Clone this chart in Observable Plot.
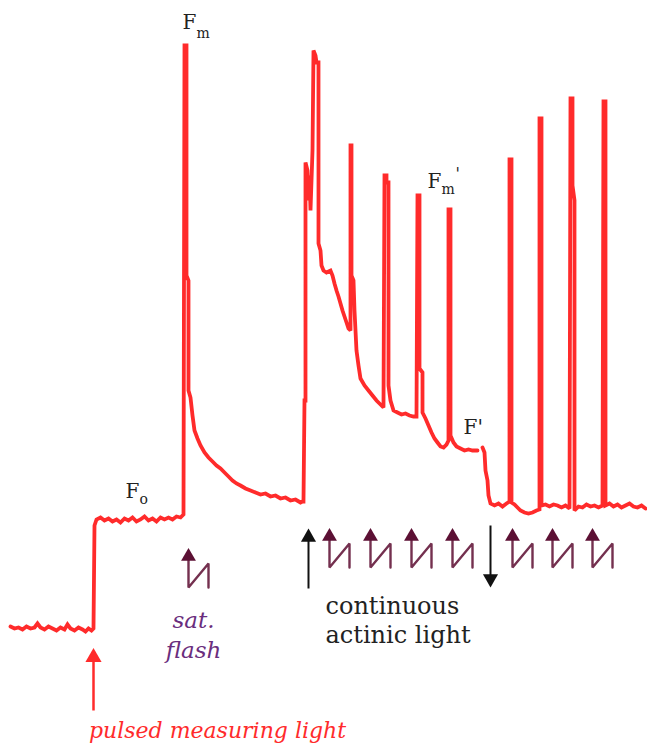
<!DOCTYPE html>
<html>
<head>
<meta charset="utf-8">
<script src="https://cdn.jsdelivr.net/npm/d3@7"></script>
<script src="https://cdn.jsdelivr.net/npm/@observablehq/plot@0.6"></script>
<style>
  html, body { margin: 0; padding: 0; background: #fff; }
  #chart svg { display: block; }
</style>
</head>
<body>
<div id="chart"></div>
<script>
// Chlorophyll fluorescence trace (arbitrary time units, arbitrary fluorescence units)
const traceTime = [
  10,14,18,22,26,30,34,37,40,44,48,52,56,60,64,67,70,74,78,82,85,88,91,93,
  94,96,100,104,108,112,116,120,124,128,132,136,140,144,148,152,156,160,164,168,172,176,180,183,
  184,186,186,188,188,
  190,192,194,197,200,204,208,212,216,220,224,228,232,236,240,245,250,255,260,265,270,275,280,285,290,295,300,302,
  303,304,305,305,307,308,309,310,311,312,313,315,316,318,318,320,321,323,326,330,332,334,336,338,340,342,344,346,348,350,
  350,351,351,353,354,356,358,360,364,368,372,376,380,383,
  384,386,386,388,388,390,393,397,401,405,409,413,416,
  417,419,419,422,422,425,428,431,434,437,440,443,446,448,
  448,450,450,453,456,460,464,468,472,477,
  479,
  482,484,485,487,488,490,
  494,498,502,506,509,
  509,511,511,514,517,520,524,528,532,536,539,
  539,541,541,545,549,553,557,561,565,569,
  570,572,572,574,574,578,582,586,590,594,598,602,
  603,605,605,609,613,617,621,625,629,633,637,641,645
];
const traceF = [
  118,116,117,115,118,116,117,121,117,115,118,116,114,117,115,120,116,114,117,115,113,116,114,116,
  219,225,227,224,226,223,225,222,226,224,227,223,225,228,224,226,223,227,225,227,225,228,227,230,
  699,699,469,464,354,
  347,329,314,306,299,292,287,283,279,276,272,268,264,261,259,256,254,252,250,251,248,249,246,247,244,245,242,243,
  243,344,344,582,574,544,569,534,564,594,694,689,682,682,501,494,479,474,472,474,469,461,454,448,441,434,428,422,416,414,
  599,599,469,464,434,394,379,366,359,354,349,344,340,337,
  569,569,562,562,359,344,334,332,330,331,329,328,328,
  549,549,376,372,332,326,319,312,306,302,298,297,300,304,
  535,535,309,302,298,296,294,295,294,294,
  NaN,
  297,292,274,264,249,241,
  239,241,238,241,243,
  585,585,242,240,237,234,232,231,232,234,235,
  626,626,239,240,238,240,239,237,239,236,
  646,646,559,544,234,238,237,240,238,239,237,239,
  643,643,239,241,238,240,237,239,241,238,237,239,236
];

// Saturating flashes (symbol positions) and light on/off arrows
const flashTime = [188, 329, 370, 411, 452, 512, 552, 592];
const flashTipF = [196, 216, 216, 216, 216, 216, 216, 216];
const arrowTime = [93, 308, 490];          // measuring light on, actinic on, actinic off
const arrowFromF = [34, 156, 219];
const arrowTipF = [96, 216, 157];

// Text labels
const letterText = ["F", "F", "F", "F'"];
const letterTime = [182, 125, 427, 463];
const letterF = [716, 247, 557, 311];
const subText = ["m", "o", "m"];
const subTime = [196, 139, 441];
const subF = [707, 241, 551];
const primeText = ["'"];
const primeTime = [455];
const primeF = [566];

const trace = traceTime.map((t, i) => ({t, F: traceF[i]}));

// flash glyph geometry (built from flash positions)
const flashLines = flashTime.flatMap((t, i) => {
  const f = flashTipF[i];
  return [
    {g: i, t: t, F: f - 10},
    {g: i, t: t, F: f - 39},
    {g: i, t: t + 20, F: f - 15},
    {g: i, t: t + 20, F: f - 39}
  ];
});
const flashHeads = flashTime.map((t, i) => ({t, F: flashTipF[i] - 8}));

const arrows = arrowTime.map((t, i) => ({t, from: arrowFromF[i], tip: arrowTipF[i], up: arrowTipF[i] > arrowFromF[i]}));
const stems = arrows.map(a => ({t: a.t, y1: a.from, y2: a.up ? a.tip - 12 : a.tip + 12, red: a.t === arrowTime[0]}));
const heads = arrows.map(a => ({t: a.t, F: a.up ? a.tip - 8.8 : a.tip + 8.8, rot: a.up ? 0 : 180, red: a.t === arrowTime[0]}));

const serif = "DejaVu Serif";

const chart = Plot.plot({
  width: 647,
  height: 744,
  margin: 0,
  x: {domain: [0, 647], axis: null},
  y: {domain: [0, 744], axis: null},
  marks: [
    Plot.line(trace, {x: "t", y: "F", stroke: "#ff2b2b", strokeWidth: 3.8, strokeLinejoin: "miter", strokeMiterlimit: 2}),
    // flash glyphs
    Plot.line(flashLines, {x: "t", y: "F", z: "g", stroke: "#74304f", strokeWidth: 2.4, strokeLinejoin: "miter"}),
    Plot.dot(flashHeads, {x: "t", y: "F", symbol: "triangle", r: 5.5, fill: "#5c1034", stroke: "none"}),
    // light arrows
    Plot.link(stems.filter(d => !d.red), {x1: "t", x2: "t", y1: "y1", y2: "y2", stroke: "#111", strokeWidth: 2}),
    Plot.link(stems.filter(d => d.red), {x1: "t", x2: "t", y1: "y1", y2: "y2", stroke: "#ff2b2b", strokeWidth: 2.5}),
    Plot.dot(heads.filter(d => !d.red), {x: "t", y: "F", symbol: "triangle", r: 5.6, rotate: "rot", fill: "#111", stroke: "none"}),
    Plot.dot(heads.filter(d => d.red), {x: "t", y: "F", symbol: "triangle", r: 6, rotate: "rot", fill: "#ff2b2b", stroke: "none"}),
    // F labels
    Plot.text(letterText, {x: (d, i) => letterTime[i], y: (d, i) => letterF[i], text: d => d, textAnchor: "start", lineAnchor: "bottom", fontFamily: serif, fontSize: 20, fill: "#222"}),
    Plot.text(subText, {x: (d, i) => subTime[i], y: (d, i) => subF[i], text: d => d, textAnchor: "start", lineAnchor: "bottom", fontFamily: serif, fontSize: 14, fill: "#222"}),
    Plot.text(primeText, {x: primeTime, y: primeF, text: d => d, textAnchor: "start", lineAnchor: "bottom", fontFamily: serif, fontSize: 16, fill: "#222"}),
    // annotations
    Plot.text(["sat.\nflash"], {x: [193], y: [87], text: d => d, textAnchor: "middle", lineAnchor: "bottom", lineHeight: 1.3, fontFamily: serif, fontStyle: "italic", fontSize: 23, fill: "#6a2d7d"}),
    Plot.text(["continuous\nactinic light"], {x: [325], y: [102], text: d => d, textAnchor: "start", lineAnchor: "bottom", lineHeight: 1.17, fontFamily: serif, fontSize: 24, fill: "#222"}),
    Plot.text(["pulsed measuring light"], {x: [217], y: [7], text: d => d, textAnchor: "middle", lineAnchor: "bottom", fontFamily: serif, fontStyle: "italic", fontSize: 22, fill: "#ff2b2b"})
  ]
});
document.getElementById("chart").append(chart);
</script>
</body>
</html>
